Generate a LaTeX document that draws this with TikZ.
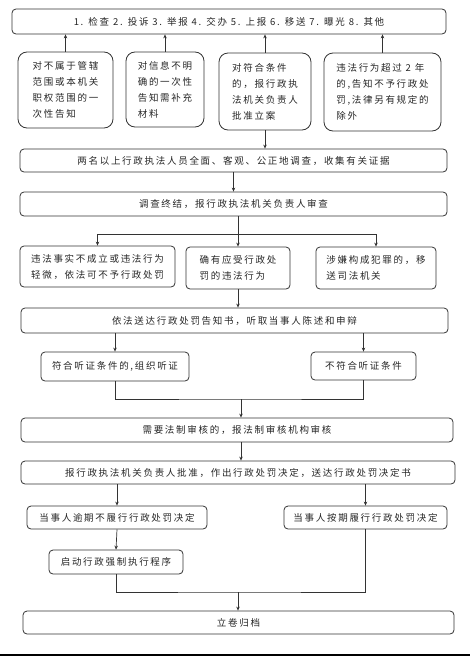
\documentclass[tikz,border=0pt]{standalone}
\usepackage{fontspec}
\setmainfont{Noto Sans CJK SC}[LetterSpace=18]
\usetikzlibrary{arrows.meta,positioning,calc}
\definecolor{linegray}{HTML}{333333}

\begin{document}
\begin{tikzpicture}[x=1pt, y=-1pt,
  box/.style={rectangle, draw=linegray, line width=0.8pt, rounded corners=4pt, align=center, inner sep=0pt,
    font=\fontsize{9.5}{16}\selectfont, text=black!85},
  sbox/.style={box, rounded corners=9pt, align=left},
  sz/.style 2 args={minimum width=#1pt, minimum height=#2pt},
  arr/.style={-{Stealth[length=4pt, width=3.5pt]}, line width=0.7pt, linegray},
  ln/.style={line width=0.7pt, linegray}
]
  \useasboundingbox (0,0) rectangle (470,656);

  \node[box, sz={434}{25}] (src) at (229,21.5) {1. 检查\ 2. 投诉\ 3. 举报\ 4. 交办\ 5. 上报\ 6. 移送\ 7. 曝光\ 8. 其他};

  \node[sbox, sz={95}{76}] (nA) at (65.5,90) {对不属于管辖\\范围或本机关\\职权范围的一\\次性告知};
  \node[sbox, sz={78}{75}] (nB) at (165,89.5) {对信息不明\\确的一次性\\告知需补充\\材料};
  \node[sbox, sz={92}{77}] (nC) at (265,91.5) {对符合条件\\的，报行政执\\法机关负责人\\批准立案};
  \node[sbox, sz={117}{78}] (nD) at (382.5,92) {违法行为超过 2 年\\的,告知不予行政处\\罚,法律另有规定的\\除外};

  \node[box, sz={427}{23}] (inv) at (233.5,160.5) {两名以上行政执法人员全面、客观、公正地调查，收集有关证据};
  \node[box, sz={427}{24}] (rev) at (233.5,204) {调查终结，报行政执法机关负责人审查};

  \node[box, align=left, sz={155}{41}] (fA) at (97.5,266.5) {违法事实不成立或违法行为\\轻微，依法可不予行政处罚};
  \node[box, align=left, sz={104}{42}] (fB) at (238,268) {确有应受行政处\\罚的违法行为};
  \node[box, align=left, sz={120}{42}] (fC) at (376,268) {涉嫌构成犯罪的，移\\送司法机关};

  \node[box, sz={427}{25}] (notice) at (234.5,320.5) {依法送达行政处罚告知书，听取当事人陈述和申辩};
  \node[box, sz={148}{29}] (hA) at (115,366.5) {符合听证条件的,组织听证};
  \node[box, sz={105}{28}] (hB) at (363.5,366) {不符合听证条件};

  \node[box, sz={432}{24}] (legal) at (237,430) {需要法制审核的，报法制审核机构审核};
  \node[box, sz={434}{23}] (decide) at (238,472.5) {报行政执法机关负责人批准，作出行政处罚决定，送达行政处罚决定书};

  \node[box, sz={180}{23}] (eA) at (117,517.5) {当事人逾期不履行行政处罚决定};
  \node[box, sz={163}{23}] (eB) at (365.5,517.5) {当事人按期履行行政处罚决定};
  \node[box, sz={134}{24}] (force) at (116,562) {启动行政强制执行程序};
  \node[box, sz={431}{23}] (archive) at (238.5,622.5) {立卷归档};

  \coordinate (split) at (238,234);
  \coordinate (join1) at (241,399);
  \coordinate (join2) at (238,592);

  % sources of the case
  \foreach \n in {nA,nB,nC,nD}
    \draw[arr] (\n.north) -- (\n.north |- src.south);
  \draw[arr] (nC.south) -- (nC.south |- inv.north);
  \draw[arr] (inv.south) -- (rev.north);

  % findings
  \draw[ln] (split |- rev.south) -- (split);
  \draw[ln] (fA.north |- split) -- (fC.north |- split);
  \foreach \n in {fA,fB,fC}
    \draw[arr] (\n.north |- split) -- (\n.north);
  \draw[arr] (fB.south) -- (fB.south |- notice.north);

  % hearing
  \draw[arr] (hA.north |- notice.south) -- (hA.north);
  \draw[arr] (hB.north |- notice.south) -- (hB.north);
  \draw[ln] (hA.south) |- (join1) -| (hB.south);
  \draw[arr] (join1) -- (join1 |- legal.north);
  \draw[arr] (join1 |- legal.south) -- (join1 |- decide.north);

  % execution
  \draw[arr] (eA.north |- decide.south) -- (eA.north);
  \draw[arr] (eB.north |- decide.south) -- (eB.north);
  \draw[arr] (eA.south) -- (force.north);
  \draw[ln] (force.south) |- (join2) -| (eB.south);
  \draw[arr] (join2) -- (join2 |- archive.north);

  \draw[line width=1.2pt, black] (0,655) -- (470,655);
\end{tikzpicture}
\end{document}
